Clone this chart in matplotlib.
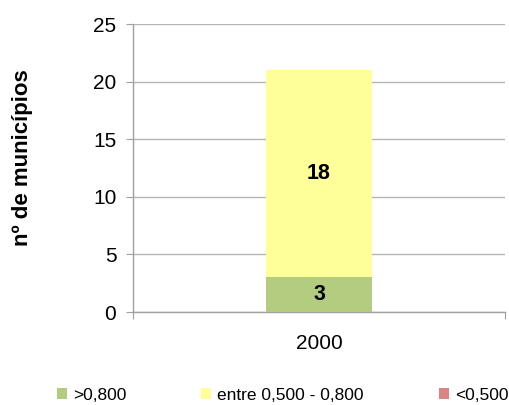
import matplotlib.pyplot as plt
import numpy as np

plt.rcParams['font.family'] = ['Liberation Sans', 'DejaVu Sans']

# DATA
years = ['2000']
alto = [3]        # >0,800
medio = [18]      # entre 0,500 - 0,800
baixo = [0]       # <0,500
series_labels = ['>0,800', 'entre 0,500 - 0,800', '<0,500']
colors = ['#b3cc7f', '#ffff99', '#d88584']
yticks = [0, 5, 10, 15, 20, 25]

fig = plt.figure(figsize = (5.09, 4.05), dpi = 100)
ax = fig.add_axes([133 / 509, 1 - 312 / 405, 372 / 509, 288 / 405])

x = np.arange(len(years))
width = 0.285
b1 = ax.bar(x, alto, width, color = colors[0], label = series_labels[0], zorder = 3)
b2 = ax.bar(x, medio, width, bottom = alto, color = colors[1], label = series_labels[1], zorder = 3)
b3 = ax.bar(x, baixo, width, bottom = np.array(alto) + np.array(medio), color = colors[2],
            label = series_labels[2], zorder = 3)

for bars, vals, bottoms in [(b1, alto, [0]), (b2, medio, alto)]:
    for rect, v, b in zip(bars, vals, bottoms):
        ax.text(rect.get_x() + rect.get_width() / 2, b + v / 2, str(v),
                ha = 'center', va = 'center', fontsize = 15.5, fontweight = 'bold', zorder = 4)

ax.set_xlim(-0.5, 0.5)
ax.set_ylim(0, 25)
ax.set_yticks(yticks)
ax.set_xticks([-0.5, 0.5], minor = False)
ax.set_xticklabels(['', ''])
ax.set_xticks(x, minor = True)
ax.set_xticklabels(years, minor = True)
ax.tick_params(axis = 'x', which = 'minor', length = 0, pad = 16, labelsize = 15)
ax.tick_params(axis = 'x', which = 'major', length = 5, color = '#a0a0a0', direction = 'out')
ax.tick_params(axis = 'y', length = 5, color = '#a0a0a0', labelsize = 15, pad = 7)

ax.yaxis.grid(True, color = '#b5b5b5', linewidth = 1, zorder = 0)
for s in ['top', 'right']:
    ax.spines[s].set_visible(False)
for s in ['left', 'bottom']:
    ax.spines[s].set_color('#a0a0a0')
    ax.spines[s].set_linewidth(1)

ax.set_ylabel('nº de municípios', fontsize = 16, fontweight = 'bold')
ax.yaxis.set_label_coords(-0.27, 0.535)

# legend entries spread across the bottom, one per series
leg_x = [57, 201, 439]
for h, lab, lx in zip([b1, b2, b3], series_labels, leg_x):
    leg = fig.legend(handles = [h], labels = [lab], loc = 'center left',
                     bbox_to_anchor = (lx / 509, 1 - 395 / 405), frameon = False,
                     fontsize = 12.5, handlelength = 0.58, handleheight = 0.58,
                     handletextpad = 0.35, borderpad = 0, borderaxespad = 0)

fig.savefig('out.png', dpi = 100)
